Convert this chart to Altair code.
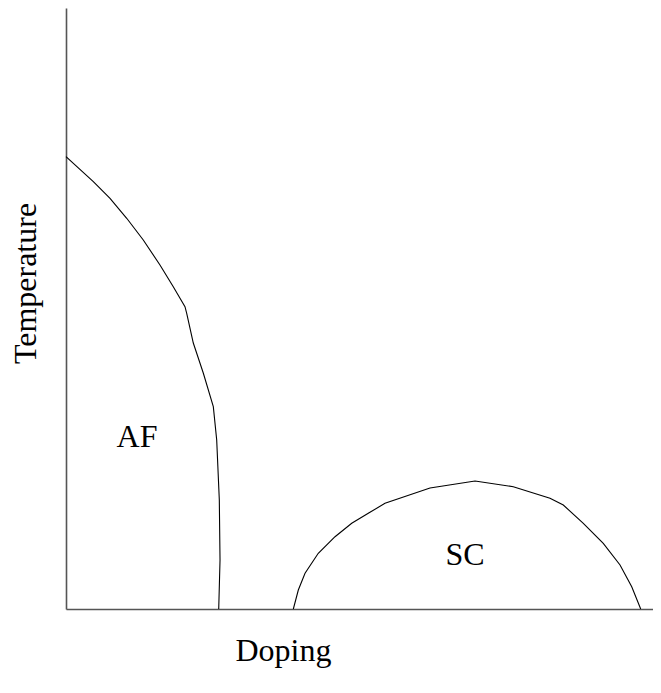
import altair as alt
import pandas as pd

# AF boundary (doping, temperature)
af_doping = [0.0, 0.046, 0.0741, 0.1022, 0.1301, 0.1582, 0.1806, 0.2003, 0.2032,
             0.2143, 0.2311, 0.248, 0.2537, 0.2581, 0.2593, 0.2571]
af_temp = [0.7526, 0.711, 0.6834, 0.6501, 0.614, 0.5724, 0.5363, 0.503, 0.492,
           0.4426, 0.3927, 0.3366, 0.2812, 0.1814, 0.0815, 0.0]

# SC dome
sc_doping = [0.3827, 0.3911, 0.4024, 0.4247, 0.4529, 0.481, 0.5089, 0.537, 0.6128,
             0.6886, 0.753, 0.8148, 0.8372, 0.8709, 0.9045, 0.9327, 0.9524, 0.9675]
sc_temp = [0.0, 0.0316, 0.0594, 0.0927, 0.1203, 0.1426, 0.1592, 0.1759, 0.2013,
           0.213, 0.2035, 0.1842, 0.173, 0.1426, 0.1093, 0.0732, 0.0371, 0.0]

labels = ["AF", "SC"]
label_doping = [0.1195, 0.6717]
label_temp = [0.286, 0.090]

rows = []
for i, (d, t) in enumerate(zip(af_doping, af_temp)):
    rows.append({"series": "AF", "order": i, "Doping": d, "Temperature": t})
for i, (d, t) in enumerate(zip(sc_doping, sc_temp)):
    rows.append({"series": "SC", "order": i, "Doping": d, "Temperature": t})
df = pd.DataFrame(rows)
lab = pd.DataFrame({"label": labels, "Doping": label_doping, "Temperature": label_temp})

FONT = "Liberation Serif, DejaVu Serif, serif"
FS = 32

xs = alt.Scale(domain=[0, 0.9882], nice=False, zero=False)
ys = alt.Scale(domain=[0, 1], nice=False, zero=False)

xaxis = alt.Axis(ticks=False, labels=False, grid=False, domainColor="#555555", domainWidth=1.6,
                 title="Doping", titleFont=FONT, titleFontSize=FS, titleFontWeight="normal",
                 titleColor="black", titleX=217, titleY=41, titleBaseline="middle",
                 titleAnchor="start", titleAlign="center")
yaxis = alt.Axis(ticks=False, labels=False, grid=False, domainColor="#555555", domainWidth=1.6,
                 title="Temperature", titleFont=FONT, titleFontSize=FS, titleFontWeight="normal",
                 titleColor="black", titleX=-41, titleY=275, titleAngle=-90,
                 titleBaseline="middle", titleAlign="center", titleAnchor="start")

lines = alt.Chart(df).mark_line(color="black", strokeWidth=1.1).encode(
    x=alt.X("Doping:Q", scale=xs, axis=xaxis),
    y=alt.Y("Temperature:Q", scale=ys, axis=yaxis),
    detail="series:N",
    order="order:Q",
)

texts = alt.Chart(lab).mark_text(font=FONT, fontSize=FS, color="black", baseline="middle", align="center").encode(
    x=alt.X("Doping:Q", scale=xs),
    y=alt.Y("Temperature:Q", scale=ys),
    text="label:N",
)

chart = (lines + texts).properties(
    width=587, height=601,
    autosize=alt.AutoSizeParams(type="none"),
    padding={"left": 58, "top": 0, "right": 0, "bottom": 62},
).configure_view(stroke=None)

chart.save("out.html", embed_options={"renderer": "svg", "actions": False})
